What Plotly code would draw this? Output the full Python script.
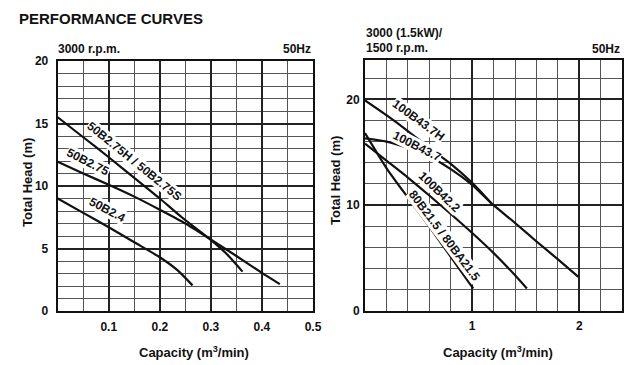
import math
import plotly.graph_objects as go

# ---------------- data ----------------
left_x_ticks = [0.1, 0.2, 0.3, 0.4, 0.5]
left_y_ticks = [0, 5, 10, 15, 20]

q_50B2_75H = [0.0, 0.05, 0.10, 0.15, 0.20, 0.243, 0.295, 0.33, 0.362]
h_50B2_75H = [15.5, 13.9, 12.3, 10.65, 9.0, 7.5, 5.85, 4.6, 3.15]

q_50B2_75 = [0.0, 0.05, 0.10, 0.15, 0.20, 0.25, 0.295, 0.35, 0.40, 0.435]
h_50B2_75 = [11.95, 11.0, 10.1, 9.15, 8.1, 7.0, 5.85, 4.4, 3.05, 2.15]

q_50B2_4 = [0.0, 0.05, 0.10, 0.15, 0.20, 0.235, 0.264]
h_50B2_4 = [9.0, 7.85, 6.7, 5.5, 4.3, 3.25, 2.05]

right_x_ticks = [1, 2]
right_y_ticks = [0, 10, 20]

q_100B43_7H = [0.0, 0.2, 0.4, 0.6, 0.8, 1.0, 1.18]
h_100B43_7H = [19.9, 18.5, 17.0, 15.4, 13.9, 12.1, 10.15]

q_100B43_7 = [0.0, 0.2, 0.4, 0.6, 0.8, 1.0, 1.18, 1.4, 1.6, 1.8, 1.99]
h_100B43_7 = [16.3, 16.0, 15.4, 14.6, 13.4, 11.9, 10.15, 8.3, 6.55, 4.85, 3.2]

q_100B42_2 = [0.0, 0.2, 0.4, 0.6, 0.8, 1.0, 1.2, 1.4, 1.51]
h_100B42_2 = [15.8, 14.2, 12.6, 10.9, 9.15, 7.35, 5.45, 3.35, 2.1]

q_80B21_5 = [0.0, 0.2, 0.4, 0.6, 0.8, 1.01]
h_80B21_5 = [16.8, 13.5, 10.7, 7.95, 5.1, 2.1]

# ---------------- figure ----------------
FONT = "Liberation Sans, Arial, sans-serif"
BLACK = "#111111"

fig = go.Figure()

left_series = [(q_50B2_75H, h_50B2_75H), (q_50B2_75, h_50B2_75), (q_50B2_4, h_50B2_4)]
right_series = [(q_100B43_7H, h_100B43_7H), (q_100B43_7, h_100B43_7),
                (q_100B42_2, h_100B42_2), (q_80B21_5, h_80B21_5)]

for q, h in left_series:
    fig.add_trace(go.Scatter(x=q, y=h, mode="lines", line=dict(color=BLACK, width=2.2, shape="spline", smoothing=0.6),
                             xaxis="x", yaxis="y", showlegend=False, hoverinfo="skip"))
for q, h in right_series:
    fig.add_trace(go.Scatter(x=q, y=h, mode="lines", line=dict(color=BLACK, width=2.2, shape="spline", smoothing=0.6),
                             xaxis="x2", yaxis="y2", showlegend=False, hoverinfo="skip"))

W, H = 634, 365
def px_x(p):
    return p / W
def px_y(p):
    return 1 - p / H

tickfont = dict(family=FONT, size=12, color=BLACK, weight="bold")

def axis_common():
    return dict(showline=True, linecolor=BLACK, linewidth=2, mirror=True, zeroline=False,
                showgrid=True, gridcolor="#222222", gridwidth=1.6, automargin=False,
                ticks="outside", tickcolor="rgba(0,0,0,0)", tickfont=tickfont)

xaxis = axis_common()
xaxis.update(domain=[px_x(57.7), px_x(313)], range=[0, 0.5], tickvals=left_x_ticks,
             ticktext=[str(v) for v in left_x_ticks], ticklen=4, anchor="y",
             minor=dict(dtick=0.05, tick0=0, showgrid=True, gridcolor="#555555", gridwidth=1))
yaxis = axis_common()
yaxis.update(domain=[px_y(311), px_y(61)], range=[0, 20], tickvals=left_y_ticks,
             ticktext=[str(v) for v in left_y_ticks], ticklen=5, anchor="x",
             minor=dict(dtick=1, tick0=0, showgrid=True, gridcolor="#555555", gridwidth=1))
xaxis2 = axis_common()
xaxis2.update(domain=[px_x(365), px_x(622.3)], range=[0, 2.4], tickvals=right_x_ticks,
              ticktext=[str(v) for v in right_x_ticks], ticklen=3, anchor="y2",
              minor=dict(dtick=0.2, tick0=0, showgrid=True, gridcolor="#555555", gridwidth=1))
yaxis2 = axis_common()
yaxis2.update(domain=[px_y(310.7), px_y(60)], range=[0, 23.72], tickvals=right_y_ticks,
              ticktext=[str(v) for v in right_y_ticks], ticklen=1, anchor="x2",
              minor=dict(dtick=2, tick0=0, showgrid=True, gridcolor="#555555", gridwidth=1))

ann = []
def label(text, x, y, angle, xref, yref, size=12):
    # text anchored at its centre; nudged a touch away from its curve (pixel offset)
    a = math.radians(angle)
    ann.append(dict(text=text, x=x, y=y, xref=xref, yref=yref, textangle=angle, showarrow=False,
                    xshift=1.5 * math.sin(a), yshift=1.5 * math.cos(a),
                    font=dict(family=FONT, size=size, color=BLACK, weight="bold"),
                    bgcolor="white", borderpad=0))

label("50B2.75H / 50B2.75S", 0.148, 11.94, 39, "x", "y")
label("50B2.75", 0.058, 11.8, 27, "x", "y")
label("50B2.4", 0.097, 8.0, 28, "x", "y")
label("100B43.7H", 0.488, 17.9, 36, "x2", "y2")
label("100B43.7", 0.476, 15.46, 27, "x2", "y2")
label("100B42.2", 0.684, 11.1, 44, "x2", "y2")
label("80B21.5 / 80BA21.5", 0.73, 6.94, 53, "x2", "y2")

def ptext(text, x, y, size, xanchor="left", yanchor="middle", angle=0):
    ann.append(dict(text=text, x=px_x(x), y=px_y(y), xref="paper", yref="paper",
                    xanchor=xanchor, yanchor=yanchor, showarrow=False, textangle=angle,
                    font=dict(family=FONT, size=size, color=BLACK, weight="bold")))

ptext("PERFORMANCE CURVES", 17, 18, 15)
ptext("3000 r.p.m.", 56, 49, 12)
ptext("50Hz", 313, 49, 12, xanchor="right")
ptext("3000 (1.5kW)/", 364, 33, 12)
ptext("1500 r.p.m.", 364, 48, 12)
ptext("50Hz", 622, 49, 12, xanchor="right")
ptext("Capacity (m<sup>3</sup>/min)", 194, 352, 13, xanchor="center")
ptext("Capacity (m<sup>3</sup>/min)", 498, 352, 13, xanchor="center")
ptext("Total Head (m)", 27, 183, 13, xanchor="center", angle=-90)
ptext("Total Head (m)", 335, 181, 13, xanchor="center", angle=-90)

fig.update_layout(width=W, height=H, margin=dict(l=0, r=0, t=0, b=0, autoexpand=False),
                  paper_bgcolor="white", plot_bgcolor="white",
                  xaxis=xaxis, yaxis=yaxis, xaxis2=xaxis2, yaxis2=yaxis2,
                  annotations=ann, showlegend=False)

fig.write_html("out.html", config={"displayModeBar": False},
               post_script="document.body.style.margin='0';document.body.style.overflow='hidden';")
